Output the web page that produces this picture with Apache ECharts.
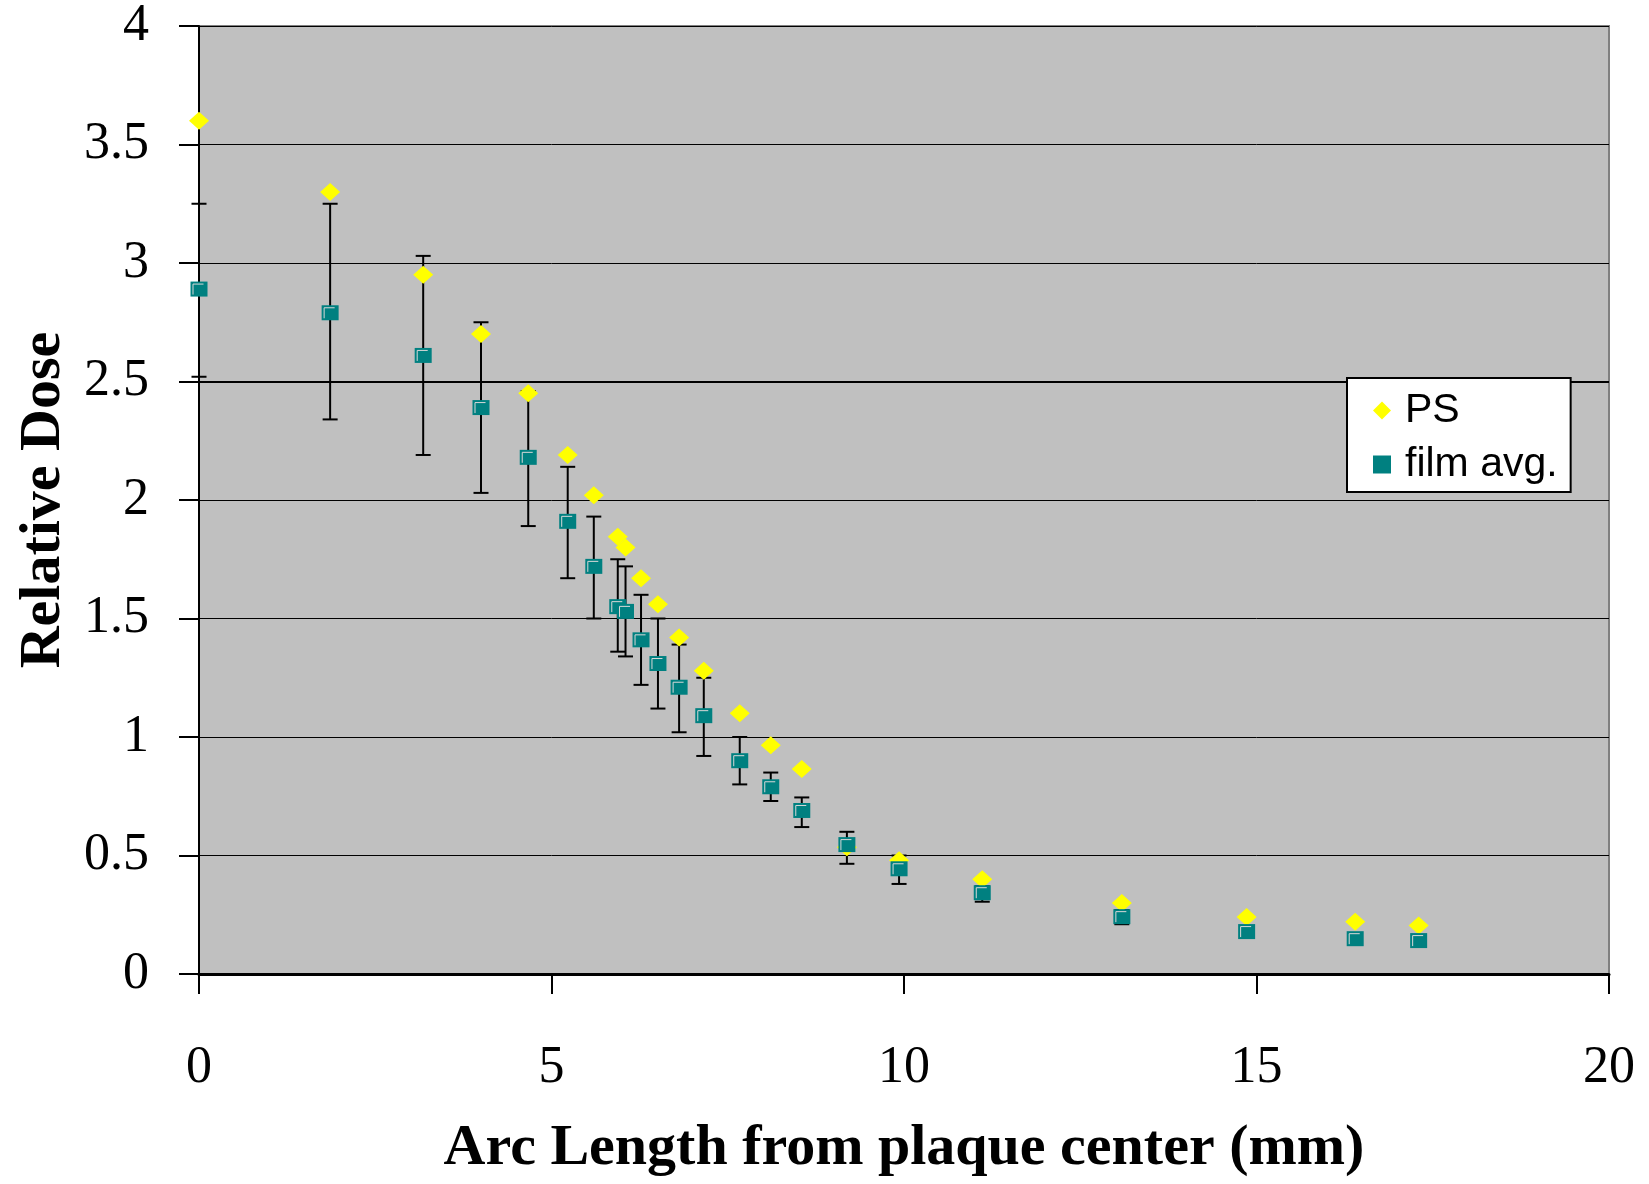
<!DOCTYPE html>
<html>
<head>
<meta charset="utf-8">
<script src="https://cdn.jsdelivr.net/npm/echarts@6/dist/echarts.min.js"></script>
<style>
  html, body { margin: 0; padding: 0; background: #fff; }
  #chart { width: 1649px; height: 1184px; }
</style>
</head>
<body>
<div id="chart"></div>
<script>
// arc length (mm) of each measurement position
const arcLength = [0, 1.86, 3.18, 4.0, 4.67, 5.23, 5.6, 5.94, 6.05, 6.27, 6.51, 6.81, 7.16, 7.67, 8.11, 8.55, 9.19, 9.93, 11.11, 13.09, 14.86, 16.4, 17.3]
const psDose = [3.6, 3.3, 2.95, 2.7, 2.45, 2.19, 2.02, 1.845, 1.8, 1.67, 1.56, 1.42, 1.28, 1.1, 0.965, 0.865, 0.535, 0.48, 0.4, 0.3, 0.24, 0.22, 0.205]
const filmAvg = [2.89, 2.79, 2.61, 2.39, 2.18, 1.91, 1.72, 1.55, 1.53, 1.41, 1.31, 1.21, 1.09, 0.9, 0.79, 0.69, 0.546, 0.444, 0.343, 0.242, 0.179, 0.149, 0.141]
const filmLow = [2.52, 2.34, 2.19, 2.03, 1.89, 1.67, 1.5, 1.36, 1.34, 1.22, 1.12, 1.02, 0.92, 0.8, 0.73, 0.62, 0.465, 0.38, 0.305, 0.21, 0.16, 0.135, 0.118]
const filmHigh = [3.25, 3.25, 3.03, 2.75, 2.46, 2.14, 1.93, 1.75, 1.72, 1.6, 1.5, 1.39, 1.25, 1.0, 0.85, 0.745, 0.6, 0.5, 0.37, 0.27, 0.19, 0.16, 0.153]
const xTicks = [0, 5, 10, 15, 20]
const yTicks = [0, 0.5, 1, 1.5, 2, 2.5, 3, 3.5, 4]

const serif = 'Liberation Serif'

const chart = echarts.init(document.getElementById('chart'))

chart.setOption({
  animation: false,
  grid: {
    left: 199,
    right: 40,
    top: 26,
    bottom: 210,
    show: true,
    backgroundColor: '#c0c0c0',
    borderColor: '#808080',
    borderWidth: 2,
  },
  legend: {
    orient: 'vertical',
    left: 1347,
    top: 378,
    itemWidth: 18,
    itemHeight: 18,
    itemGap: 13,
    padding: [12, 13, 7, 26],
    backgroundColor: '#fff',
    borderColor: '#000',
    borderWidth: 2,
    borderRadius: 0,
    data: [
      { name: 'PS', icon: 'diamond' },
      { name: 'film avg.', icon: 'rect' },
    ],
    textStyle: {
      fontFamily: 'Liberation Sans',
      fontSize: 41,
      color: '#000',
      padding: [0, 0, 0, 9],
    },
  },
  xAxis: {
    type: 'value',
    min: xTicks[0],
    max: xTicks[xTicks.length - 1],
    interval: xTicks[1] - xTicks[0],
    name: 'Arc Length from plaque center (mm)',
    nameLocation: 'middle',
    nameGap: 146,
    nameTextStyle: { fontFamily: serif, fontSize: 58, fontWeight: 'bold', color: '#000' },
    axisLine: { lineStyle: { color: '#000', width: 3 } },
    axisTick: { show: true, inside: false, length: 20, lineStyle: { color: '#000', width: 2 } },
    axisLabel: { fontFamily: serif, fontSize: 52, color: '#000', margin: 68 },
    splitLine: { show: false },
  },
  yAxis: {
    type: 'value',
    min: yTicks[0],
    max: yTicks[yTicks.length - 1],
    interval: yTicks[1] - yTicks[0],
    name: 'Relative Dose',
    nameLocation: 'middle',
    nameGap: 121,
    nameTextStyle: { fontFamily: serif, fontSize: 58, fontWeight: 'bold', color: '#000' },
    axisLine: { show: true, lineStyle: { color: '#000', width: 2 } },
    axisTick: { show: true, inside: false, length: 20, lineStyle: { color: '#000', width: 2 } },
    axisLabel: { fontFamily: serif, fontSize: 52, color: '#000', margin: 50 },
    splitLine: { show: true, lineStyle: { color: '#000', width: 1 } },
  },
  series: [
    {
      type: 'custom',
      name: 'err',
      silent: true,
      z: 1,
      data: arcLength.map((x, i) => [x, filmLow[i], filmHigh[i]]),
      renderItem(params, api) {
        const lo = api.coord([api.value(0), api.value(1)])
        const hi = api.coord([api.value(0), api.value(2)])
        const half = 7.5
        const style = { stroke: '#000', lineWidth: 2 }
        return {
          type: 'group',
          children: [
            { type: 'line', shape: { x1: lo[0], y1: lo[1], x2: hi[0], y2: hi[1] }, style },
            { type: 'line', shape: { x1: hi[0] - half, y1: hi[1], x2: hi[0] + half, y2: hi[1] }, style },
            { type: 'line', shape: { x1: lo[0] - half, y1: lo[1], x2: lo[0] + half, y2: lo[1] }, style },
          ],
        }
      },
    },
    {
      type: 'scatter',
      name: 'PS',
      z: 2,
      symbol: 'diamond',
      symbolSize: [20, 18],
      itemStyle: { color: '#ffff00', opacity: 1 },
      data: arcLength.map((x, i) => [x, psDose[i]]),
      // the 2.5 gridline is drawn heavier in the original
      markLine: {
        silent: true,
        symbol: 'none',
        label: { show: false },
        lineStyle: { color: '#000', width: 2, type: 'solid' },
        data: [{ yAxis: 2.5 }],
        z: 0,
      },
    },
    {
      type: 'custom',
      name: 'film avg.',
      z: 3,
      itemStyle: { color: '#008080' },
      data: arcLength.map((x, i) => [x, filmAvg[i]]),
      renderItem(params, api) {
        const p = api.coord([api.value(0), api.value(1)])
        const w = 17
        const h = 15
        const l = p[0] - w / 2
        const t = p[1] - h / 2
        return {
          type: 'group',
          children: [
            { type: 'rect', shape: { x: l, y: t, width: w, height: h }, style: { fill: '#008080' } },
            {
              type: 'polyline',
              shape: { points: [[l + 2.5, t + h - 2], [l + 2.5, t + 2.5], [l + w - 4, t + 2.5]] },
              style: { stroke: '#d8d8d8', lineWidth: 1, fill: null },
            },
          ],
        }
      },
    },
  ],
})
</script>
</body>
</html>
